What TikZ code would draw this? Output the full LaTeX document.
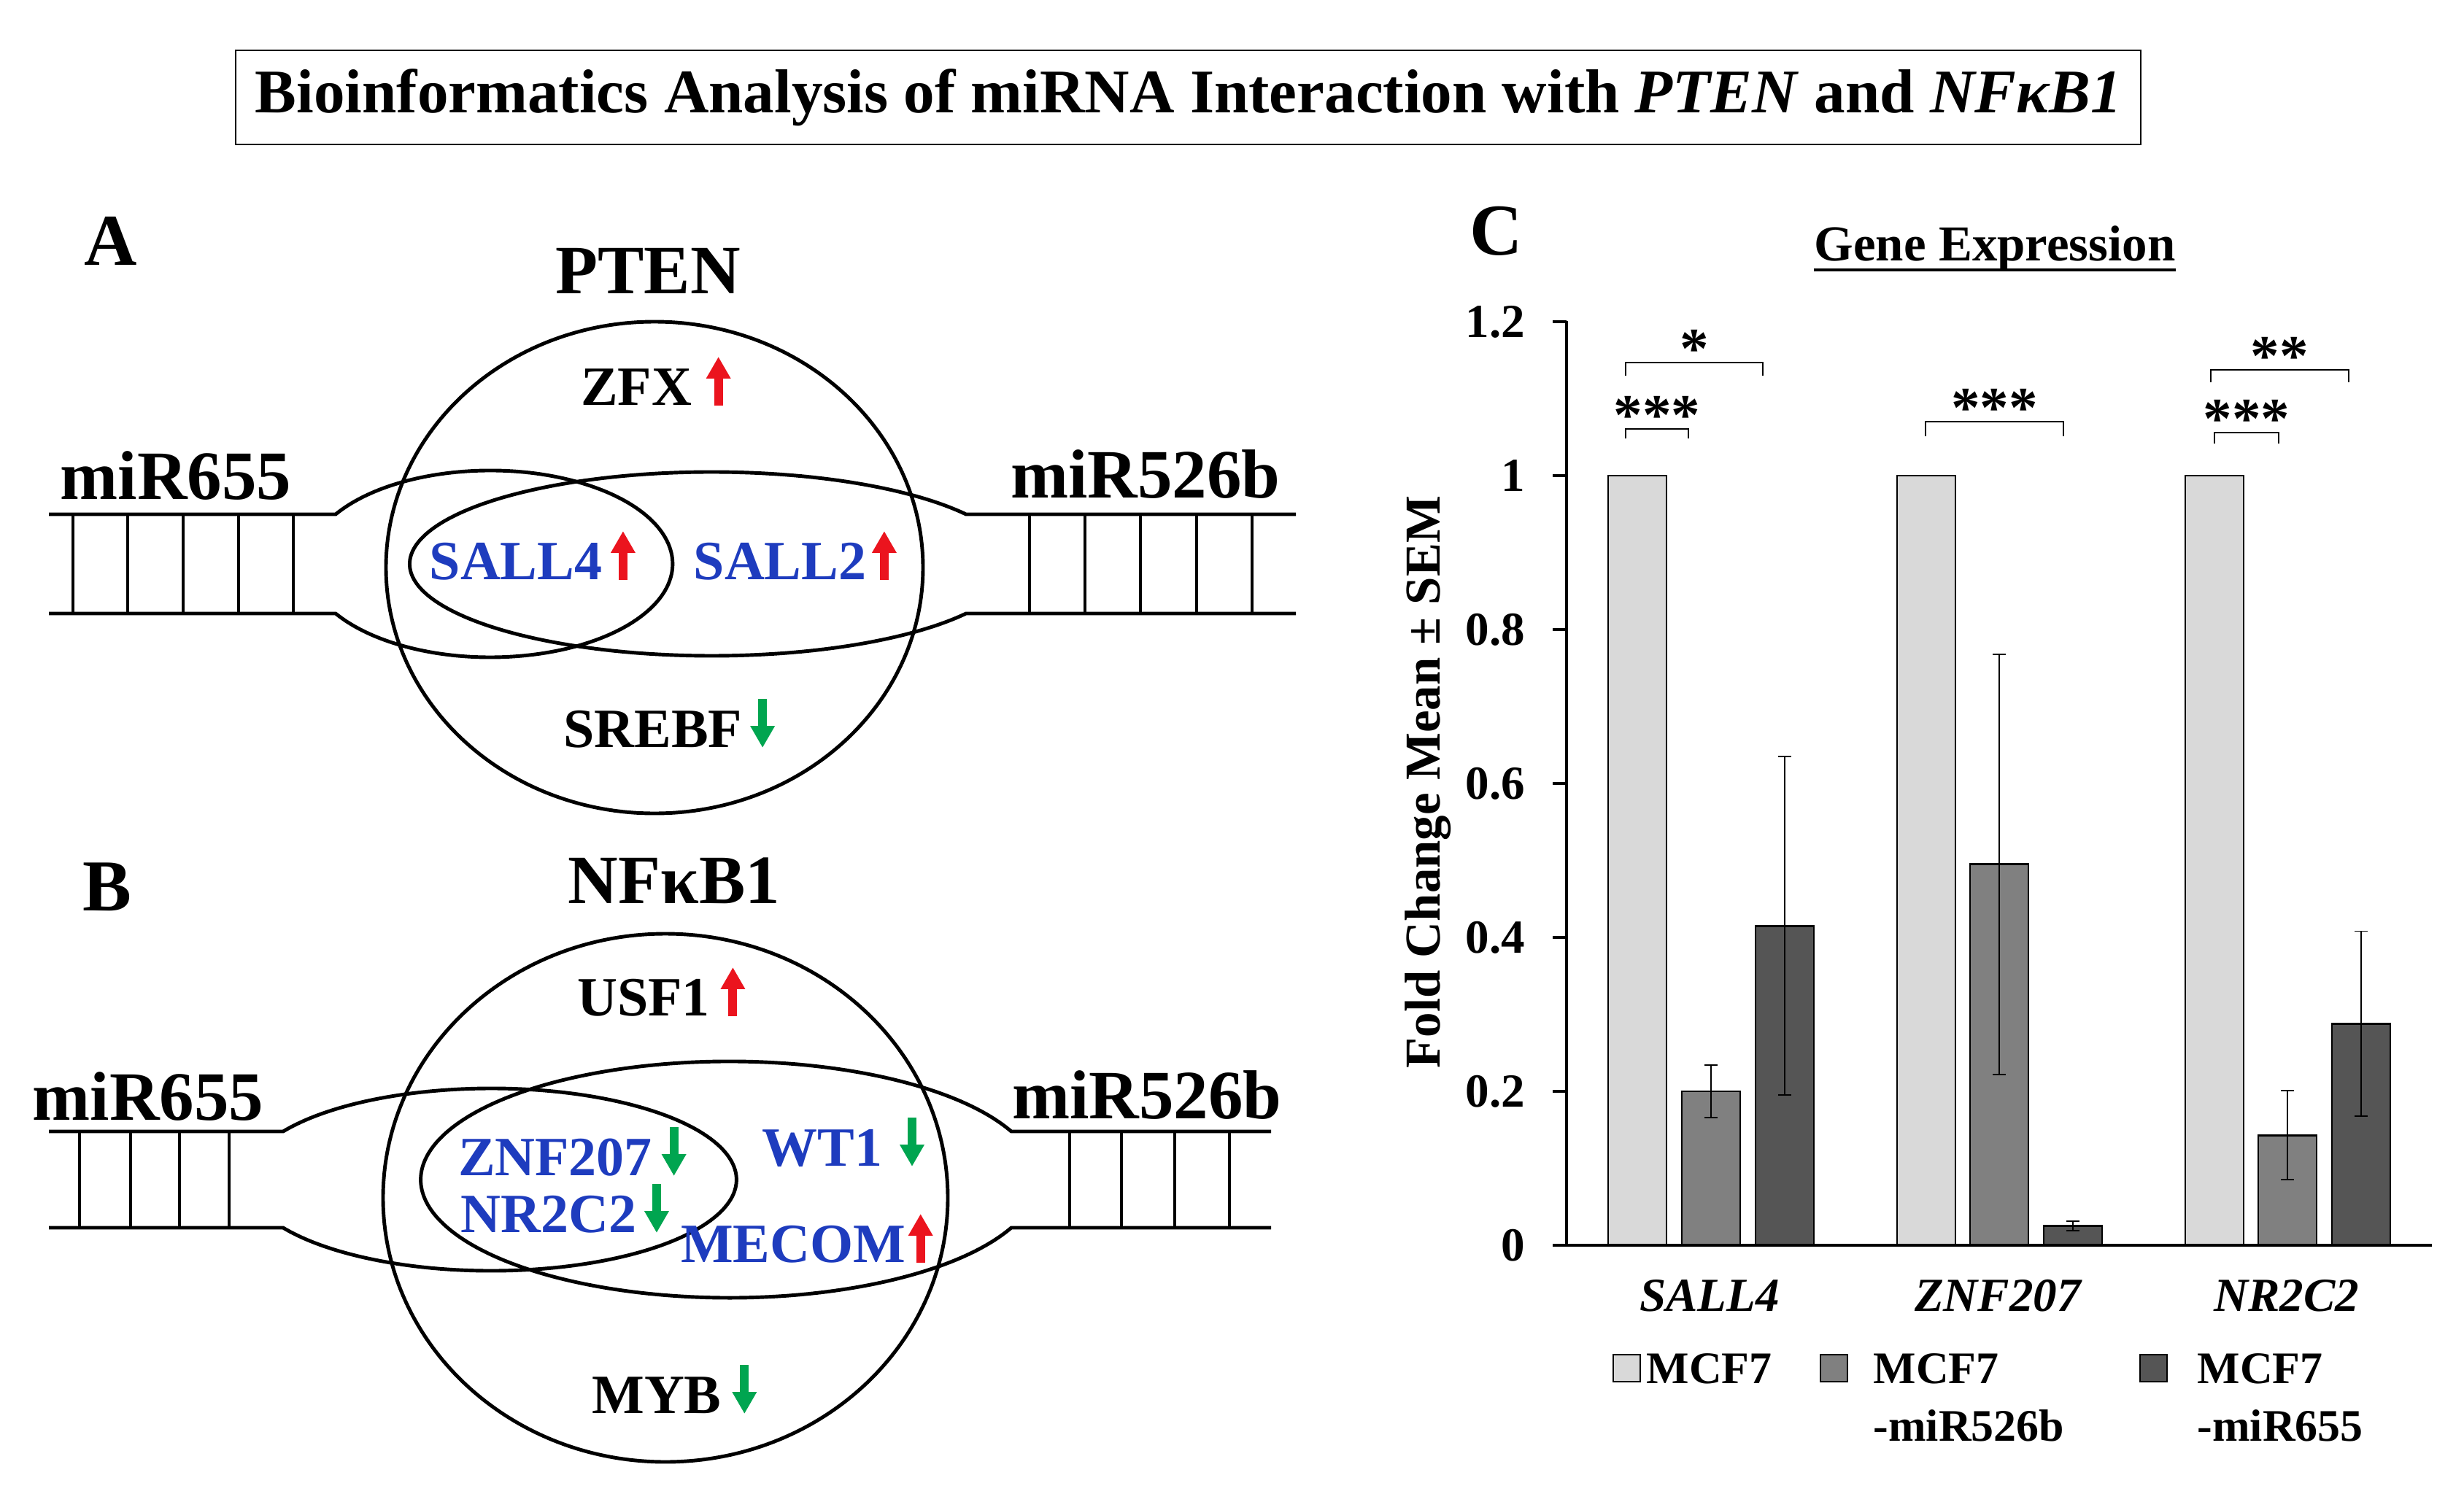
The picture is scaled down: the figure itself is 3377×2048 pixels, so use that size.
\documentclass[tikz,border=0pt]{standalone}
\usepackage{fontspec}
\setmainfont{Liberation Serif}
\usepackage{tikz}
\usetikzlibrary{calc,arrows.meta}

\definecolor{geneblue}{RGB}{30,60,190}
\definecolor{upred}{RGB}{235,20,30}
\definecolor{downgreen}{RGB}{0,165,80}
\definecolor{barlight}{RGB}{217,217,217}
\definecolor{barmid}{RGB}{128,128,128}
\definecolor{bardark}{RGB}{85,85,85}

\tikzset{
  panel/.style={inner sep=0pt,font=\bfseries\fontsize{28.5}{30}\selectfont},
  target/.style={inner sep=0pt,font=\bfseries\fontsize{27}{29}\selectfont},
  gene/.style={inner sep=0pt,font=\bfseries\fontsize{21.6}{24}\selectfont},
  shared/.style={gene,text=geneblue},
  venn/.style={line width=1.4pt},
  rung/.style={line width=0.9pt},
  uparr/.style={draw=upred,line width=3.4pt,-{Triangle[length=8.5pt,width=9pt]}},
  downarr/.style={draw=downgreen,line width=3.4pt,-{Triangle[length=8.5pt,width=9pt]}},
  bar/.style={draw=black,line width=0.8pt},
  errbar/.style={line width=0.5pt},
  axis/.style={line width=1.1pt},
  brk/.style={line width=0.8pt},
  tick/.style={inner sep=0pt,font=\bfseries\fontsize{18.5}{20}\selectfont},
  star/.style={inner sep=0pt,font=\bfseries\fontsize{22.5}{24}\selectfont},
  cat/.style={inner sep=0pt,font=\bfseries\itshape\fontsize{18.5}{20}\selectfont},
  legend/.style={inner sep=0pt,font=\bfseries\fontsize{17.6}{20}\selectfont}
}

\newcommand{\geneup}[2][28]{\draw[uparr] ($(#2.east)+(#1,25)$) -- ++(0,-67);}
\newcommand{\genedown}[2][28]{\draw[downarr] ($(#2.east)+(#1,-42)$) -- ++(0,67);}

\begin{document}
\begin{tikzpicture}[x=0.01cm,y=-0.01cm]
  \useasboundingbox (0,0) rectangle (3377,2048);

  \draw[line width=0.8pt] (323,69) rectangle (2934,198);
  \node[inner sep=0pt,font=\bfseries\fontsize{24.2}{26}\selectfont] (title) at (1629,134)
    {Bioinformatics Analysis of miRNA Interaction with \textit{PTEN} and \textit{NFκB1}};

  % A: PTEN
  \node[panel] (pa) at (152,330) {A};
  \node[target] (pten) at (888,371) {PTEN};
  \draw[venn] (897,778) ellipse[x radius=368,y radius=337];
  \draw[venn] (67,705) -- (460,705) arc[start angle=212.08,end angle=507.92,x radius=250,y radius=128] -- (67,841);
  \foreach \x in {100,175,251,327,402} \draw[rung] (\x,705) -- (\x,841);
  \draw[venn] (1776,705) -- (1324,705) arc[start angle=-32.66,end angle=-327.34,x radius=414,y radius=126] -- (1776,841);
  \foreach \x in {1411,1487,1563,1640,1716} \draw[rung] (\x,705) -- (\x,841);
  \node[target] (mira1) at (241,652) {miR655};
  \node[target] (mira2) at (1570,650) {miR526b};
  \node[gene] (zfx) at (872,531) {ZFX};
  \node[shared] (sall4) at (707,770) {SALL4};
  \node[shared] (sall2) at (1069,770) {SALL2};
  \node[gene] (srebf) at (895,1000) {SREBF};
  \geneup[36]{zfx}
  \geneup{sall4}
  \geneup[24]{sall2}
  \genedown[27]{srebf}

  % B: NFkB1
  \node[panel] (pb) at (147,1216) {B};
  \node[target] (nfkb) at (924,1207) {NFκB1};
  \draw[venn] (912,1642) ellipse[x radius=387,y radius=362];
  \draw[venn] (67,1551) -- (388,1551) arc[start angle=211.87,end angle=508.13,x radius=336,y radius=125] -- (67,1683);
  \foreach \x in {109,179,246,314} \draw[rung] (\x,1551) -- (\x,1683);
  \draw[venn] (1742,1551) -- (1386,1551) arc[start angle=-24.04,end angle=-335.96,x radius=423,y radius=162] -- (1742,1683);
  \foreach \x in {1466,1537,1610,1685} \draw[rung] (\x,1551) -- (\x,1683);
  \node[target] (mirb1) at (203,1503) {miR655};
  \node[target] (mirb2) at (1572,1501) {miR526b};
  \node[gene] (usf1) at (882,1368) {USF1};
  \node[shared] (znf207) at (761,1587) {ZNF207};
  \node[shared] (nr2c2) at (752,1665) {NR2C2};
  \node[shared] (wt1) at (1127,1574) {WT1};
  \node[shared] (mecom) at (1087,1706) {MECOM};
  \node[gene] (myb) at (900,1913) {MYB};
  \geneup[31]{usf1}
  \genedown[29]{znf207}
  \genedown[27]{nr2c2}
  \genedown[40]{wt1}
  \geneup[20]{mecom}
  \genedown[31]{myb}

  % C: chart
  \node[panel] (pc) at (2051,317) {C};
  \node[inner sep=0pt,anchor=base,font=\bfseries\fontsize{19.6}{21}\selectfont] (gexp) at (2734,357) {Gene Expression};
  \draw[line width=1.4pt] ($(gexp.base west)+(0,13)$) -- ($(gexp.base east)+(0,13)$);
  \node[inner sep=0pt,rotate=90,font=\bfseries\fontsize{19.6}{21}\selectfont] (ylab) at (1957,1072) {Fold Change Mean ± SEM};

  \foreach \v [count=\i] in {0,0.2,0.4,0.6,0.8,1,1.2} {
    \pgfmathsetmacro\ty{1707-1055*\v}
    \draw[axis] (2128,\ty) -- (2147,\ty);
    \node[tick,anchor=east] (tick\i) at (2091,\ty) {\v};
  }

  \foreach \cx/\v/\c in {2244/1/barlight,2345/0.2/barmid,2446/0.415/bardark,
                          2640/1/barlight,2740/0.495/barmid,2841/0.025/bardark,
                          3035/1/barlight,3135/0.143/barmid,3236/0.288/bardark} {
    \pgfmathsetmacro\ty{1707-1055*\v}
    \draw[bar,fill=\c] (\cx-40,1707) rectangle (\cx+40,\ty);
  }
  \foreach \cx/\v/\e in {2345/0.2/0.034,2446/0.415/0.22,2740/0.495/0.273,
                          2841/0.025/0.006,3135/0.143/0.058,3236/0.288/0.12} {
    \pgfmathsetmacro\ya{1707-1055*(\v+\e)}
    \pgfmathsetmacro\yb{1707-1055*(\v-\e)}
    \draw[errbar] (\cx,\ya) -- (\cx,\yb) (\cx-9,\ya) -- (\cx+9,\ya) (\cx-9,\yb) -- (\cx+9,\yb);
  }
  \draw[axis] (2147,440) -- (2147,1707);
  \draw[axis] (2128,1707) -- (3333,1707);

  \foreach \xa/\xb/\yl/\yb/\s [count=\i] in {2228/2314/601/588/{***},2228/2416/515/497/{*},
      2639/2828/598/578/{***},3030/3219/524/507/{**},3035/3123/608/593/{***}} {
    \draw[brk] (\xa,\yl) -- (\xa,\yb) -- (\xb,\yb) -- (\xb,\yl);
    \node[star,anchor=south] (sig\i) at ({(\xa+\xb)/2},\yb+8) {\s};
  }

  \node[cat] (c1) at (2343,1776) {SALL4};
  \node[cat] (c2) at (2738,1776) {ZNF207};
  \node[cat] (c3) at (3134,1776) {NR2C2};

  \draw[bar,fill=barlight] (2211,1857) rectangle (2248,1894);
  \draw[bar,fill=barmid] (2495,1857) rectangle (2532,1894);
  \draw[bar,fill=bardark] (2933,1857) rectangle (2970,1894);
  \node[legend,anchor=west] (lg1) at (2256,1876) {MCF7};
  \node[legend,anchor=west] (lg2) at (2567,1876) {MCF7};
  \node[legend,anchor=west] (lg2b) at (2567,1954) {-miR526b};
  \node[legend,anchor=west] (lg3) at (3011,1876) {MCF7};
  \node[legend,anchor=west] (lg3b) at (3011,1954) {-miR655};
\end{tikzpicture}
\end{document}
